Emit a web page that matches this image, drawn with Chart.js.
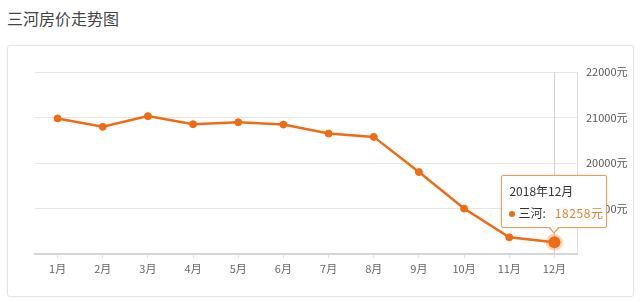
<!DOCTYPE html>
<html>
<head>
<meta charset="utf-8">
<script src="https://cdn.jsdelivr.net/npm/chart.js@4"></script>
<style>
  html, body { margin: 0; padding: 0; background: #fff; }
  body { width: 640px; height: 302px; position: relative; overflow: hidden; font-family: "Noto Sans CJK SC", "Noto Sans", sans-serif; }
  #title { position: absolute; left: 7px; top: 6px; font-size: 16px; line-height: 24px; color: #444; }
  #box { position: absolute; left: 7px; top: 45px; width: 627px; height: 252px; border: 1px solid #e4e4e4; border-radius: 3px; box-sizing: border-box; box-shadow: 0 0 2px rgba(0,0,0,0.06); }
  #myChart { position: absolute; left: 0; top: 0; }
  #tip { position: absolute; display: none; width: 106px; height: 53px; box-sizing: border-box; background: #fff; border: 1px solid #eb9d5c; border-radius: 2px; box-shadow: 0 0 3px rgba(0,0,0,0.12); font-size: 12px; color: #333; }
  #tip .t { position: absolute; left: 7px; top: 6px; line-height: 18px; }
  #tip .b { position: absolute; left: 7px; top: 28px; line-height: 18px; white-space: nowrap; }
  #tip .dot { display: inline-block; width: 6px; height: 6px; border-radius: 3px; background: #ef6b14; margin-right: 3px; vertical-align: 1px; }
  #tip .v { color: #e5812f; letter-spacing: 0.6px; margin-left: 9px; }
  #tip .arr, #tip .arr2 { position: absolute; left: 50%; width: 0; height: 0; border-left: 6px solid transparent; border-right: 6px solid transparent; margin-left: -6px; }
  #tip .arr { bottom: -7px; border-top: 7px solid #eb9d5c; }
  #tip .arr2 { bottom: -5px; border-top: 6px solid #fff; border-left-width: 5px; border-right-width: 5px; margin-left: -5px; }
</style>
</head>
<body>
<div id="title">三河房价走势图</div>
<div id="box"></div>
<canvas id="myChart" width="640" height="302"></canvas>
<div id="tip"><div class="t"></div><div class="b"></div><div class="arr"></div><div class="arr2"></div></div>
<script>
const months = ['1月', '2月', '3月', '4月', '5月', '6月', '7月', '8月', '9月', '10月', '11月', '12月']
const prices = [20980, 20795, 21030, 20852, 20896, 20845, 20647, 20574, 19801, 18998, 18366, 18258]
const seriesName = '三河'
const tipTitle = '2018年12月'
const yMin = 18000
const yMax = 22000
const yStep = 1000
const activeIndex = 11

const lineColor = '#ef6b14'

// external tooltip: html box with caret pointing at the point
function drawTip(context) {
    const tip = document.getElementById('tip')
    const model = context.tooltip
    if (model.opacity === 0 || !model.dataPoints || !model.dataPoints.length) {
        tip.style.display = 'none'
        return
    }
    const dp = model.dataPoints[0]
    tip.querySelector('.t').textContent = tipTitle
    tip.querySelector('.b').innerHTML = '<span class="dot"></span>' + dp.dataset.label + ':<span class="v">' + dp.raw + '元</span>'
    tip.style.display = 'block'
    tip.style.left = (model.caretX - 53) + 'px'
    tip.style.top = (model.caretY - 14 - 53) + 'px'
}

// vertical guide line at the active point
const crossLine = {
    id: 'crossLine',
    beforeDatasetsDraw(chart) {
        const act = chart.getActiveElements()
        if (!act.length) return
        const x = act[0].element.x
        const {top, bottom} = chart.chartArea
        const ctx = chart.ctx
        ctx.save()
        ctx.strokeStyle = '#d2d2d2'
        ctx.lineWidth = 1
        ctx.beginPath()
        ctx.moveTo(Math.round(x) + 0.5, top)
        ctx.lineTo(Math.round(x) + 0.5, bottom)
        ctx.stroke()
        ctx.restore()
    }
}

function drawChart() {
    const ctx = document.getElementById('myChart')

    const data = {
        labels: months,
        datasets: [{
            label: seriesName,
            data: prices,
            borderColor: lineColor,
            backgroundColor: lineColor,
            borderWidth: 2.5,
            tension: 0,
            pointRadius: 3.5,
            pointBorderWidth: 1,
            pointHoverRadius: 6,
            pointHoverBorderWidth: 5,
            pointHoverBackgroundColor: lineColor,
            pointHoverBorderColor: 'rgba(239,107,20,0.28)'
        }]
    }

    const config = {
        type: 'line',
        data: data,
        options: {
            responsive: false,
            animation: false,
            events: [],
            layout: {padding: {left: 35, top: 72, right: 0, bottom: 28}},
            scales: {
                x: {
                    offset: true,
                    grid: {drawOnChartArea: false, offset: false, drawTicks: true, tickLength: 4, color: '#e0e0e0'},
                    border: {color: '#d6d6d6', width: 2},
                    ticks: {padding: 4, color: '#666', font: {size: 11, family: '"Noto Sans CJK SC", sans-serif'}, maxRotation: 0},
                    afterFit(scale) { scale.height = 20 }
                },
                y: {
                    position: 'right',
                    min: yMin,
                    max: yMax,
                    grid: {color: '#e6e6e6', drawTicks: false},
                    border: {color: '#dedede', width: 1},
                    ticks: {
                        stepSize: yStep,
                        padding: 9,
                        color: '#555',
                        font: {size: 11, family: '"Noto Sans CJK SC", sans-serif'},
                        callback: v => v === yMin ? '' : v + '元'
                    },
                    afterFit(scale) { scale.width = 63 }
                }
            },
            plugins: {
                legend: {display: false},
                tooltip: {enabled: false, external: drawTip}
            }
        },
        plugins: [crossLine]
    }

    const chart = new Chart(ctx, config)
    const el = chart.getDatasetMeta(0).data[activeIndex]
    chart.setActiveElements([{datasetIndex: 0, index: activeIndex}])
    chart.tooltip.setActiveElements([{datasetIndex: 0, index: activeIndex}], {x: el.x, y: el.y})
    chart.update()
}

document.addEventListener('DOMContentLoaded', drawChart)
</script>
</body>
</html>
